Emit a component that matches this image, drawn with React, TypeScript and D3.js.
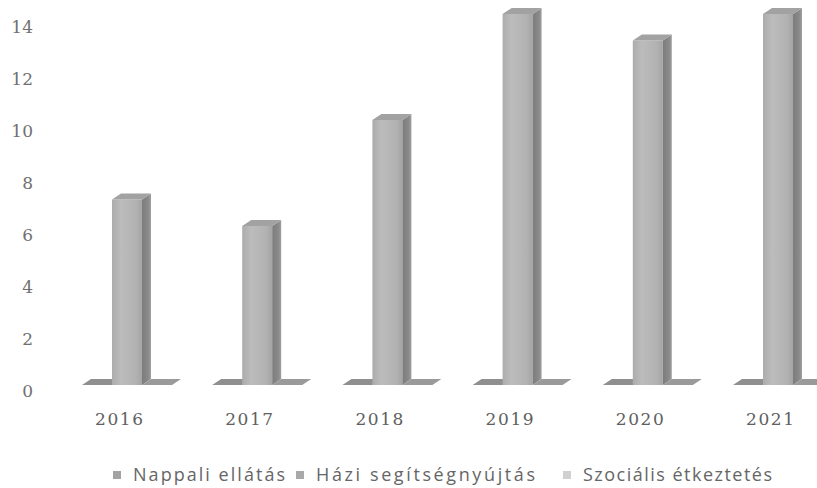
import React from "react";
import * as d3 from "d3";

const years = ["2016", "2017", "2018", "2019", "2020", "2021"];
const seriesNames = ["Nappali ellátás", "Házi segítségnyújtás", "Szociális étkeztetés"];
const nappali = [0, 0, 0, 0, 0, 0];
const hazi = [7, 6, 10, 14, 13, 14];
const szocialis = [0, 0, 0, 0, 0, 0];
const yTicks = [0, 2, 4, 6, 8, 10, 12, 14];

const W = 817;
const H = 488;

const seriesData = [nappali, hazi, szocialis];
const frontColors = ["#9c9c9c", "url(#frontGrad)", "#a8a8a8"];
const sideColors = ["#8f8f8f", "#858585", "#9a9a9a"];
const topColors = ["#999999", "#a2a2a2", "#a3a3a3"];
const legendColors = ["#a3a3a3", "#a9a9a9", "#d0d0d0"];

export default function App() {
  const x0 = d3
    .scaleBand<string>()
    .domain(years)
    .range([61.9, 843.1])
    .paddingInner(0.309)
    .paddingOuter(0.1545);
  const x1 = d3
    .scaleBand<string>()
    .domain(seriesNames)
    .range([0, x0.bandwidth()])
    .padding(0);
  const yBar = d3.scaleLinear().domain([0, 14]).range([385, 14]);
  const yLabel = d3.scaleLinear().domain([0, 14]).range([391, 27]);

  const dx = 9;
  const dy = 6;
  const bw = x1.bandwidth();

  const legendX = [113, 296, 563];
  const legendLen = [152, 219, 189];

  return (
    <svg
      width={W}
      height={H}
      style={{ position: "absolute", left: 0, top: 0, background: "#fff" }}
    >
      <defs>
        <linearGradient id="frontGrad" x1="0" x2="1" y1="0" y2="0">
          <stop offset="0" stopColor="#acacac" />
          <stop offset="0.3" stopColor="#bcbcbc" />
          <stop offset="0.8" stopColor="#b2b2b2" />
          <stop offset="1" stopColor="#a4a4a4" />
        </linearGradient>
        <linearGradient id="sideGrad" x1="0" x2="1" y1="0" y2="0">
          <stop offset="0" stopColor="#7c7c7c" />
          <stop offset="0.7" stopColor="#8a8a8a" />
          <stop offset="1" stopColor="#a0a0a0" />
        </linearGradient>
      </defs>

      {yTicks.map((t) => (
        <text
          key={t}
          x={33}
          y={yLabel(t)}
          textAnchor="end"
          dominantBaseline="central"
          fontFamily="'DejaVu Serif', serif"
          fontSize={17}
          fill="#707070"
        >
          {t}
        </text>
      ))}

      {years.map((yr, i) => (
        <g key={yr}>
          {seriesNames.map((s, si) => {
            const v = seriesData[si][i];
            const x = (x0(yr) as number) + (x1(s) as number);
            const yT = yBar(v);
            const yB = yBar(0);
            const front = `M${x},${yT}L${x + bw},${yT}L${x + bw},${yB}L${x},${yB}Z`;
            const side = `M${x + bw},${yT}L${x + bw + dx},${yT - dy}L${x + bw + dx},${yB - dy}L${x + bw},${yB}Z`;
            const top = `M${x},${yT}L${x + dx},${yT - dy}L${x + bw + dx},${yT - dy}L${x + bw},${yT}Z`;
            return (
              <g key={s}>
                {v > 0 && <path d={front} fill={frontColors[si]} />}
                {v > 0 && <path d={side} fill="url(#sideGrad)" />}
                <path d={top} fill={v > 0 ? topColors[si] : sideColors[si]} />
              </g>
            );
          })}
          <text
            x={(x0(yr) as number) + x0.bandwidth() / 2 - 8}
            y={425}
            textAnchor="middle"
            fontFamily="'DejaVu Serif', serif"
            fontSize={17}
            fill="#606060"
            textLength={48}
            lengthAdjust="spacing"
          >
            {yr}
          </text>
        </g>
      ))}

      {seriesNames.map((s, i) => (
        <g key={s}>
          <rect x={legendX[i]} y={471} width={8} height={8} fill={legendColors[i]} />
          <text
            x={legendX[i] + 20}
            y={481}
            fontFamily="'Open Sans', sans-serif"
            fontSize={18}
            fill="#666"
            textLength={legendLen[i]}
            lengthAdjust="spacing"
          >
            {s}
          </text>
        </g>
      ))}
    </svg>
  );
}
